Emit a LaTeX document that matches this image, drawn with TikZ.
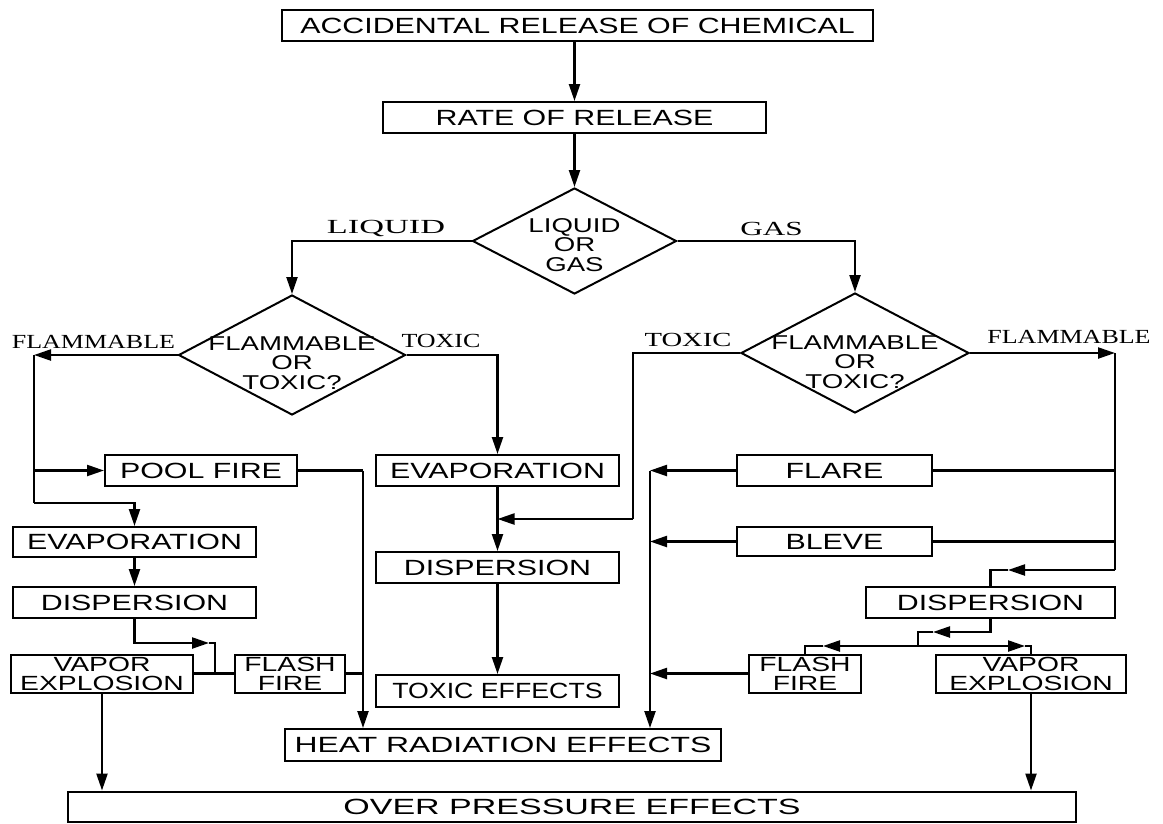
\documentclass[tikz,border=0pt]{standalone}
\usepackage{fontspec}
\usepackage{graphicx}
\setmainfont{Liberation Sans}[FakeStretch=1.38]
\newfontfamily\serifwide{Liberation Serif}[FakeStretch=1.3]
\usetikzlibrary{shapes.geometric,arrows.meta}
\newcommand{\bxfont}{\fontsize{22}{18}\selectfont}
\newcommand{\twofont}{\fontsize{20.5}{19}\selectfont}
\newcommand{\dmfont}{\fontsize{20}{19.5}\selectfont}
\newcommand{\lbfont}{\serifwide\fontsize{20}{20}\selectfont}

\begin{document}
\begin{tikzpicture}[x=1pt,y=-1pt,
  box/.style={draw, line width=2pt, inner sep=0pt, align=center, font=\bxfont},
  twoline/.style={box, font=\twofont},
  dia/.style={draw, diamond, line width=2pt, inner sep=0pt},
  dtext/.style={align=center, font=\dmfont, inner sep=0pt},
  lbl/.style={font=\lbfont, inner sep=0pt},
  arr/.style={-{Triangle[length=17pt,width=11pt]}, line width=2.3pt},
  ln/.style={line width=2.3pt}]

\fill[white] (0,0) rectangle (1163,823);
\useasboundingbox (0,0) rectangle (1163,823);

% ---- top of the chart
\node[box, minimum width=591pt, minimum height=31pt] (acc) at (577.5,25.5) {ACCIDENTAL RELEASE OF CHEMICAL};
\node[box, minimum width=383pt, minimum height=31pt] (rate) at (574.5,117.5) {RATE OF RELEASE};
\node[dia, minimum width=204pt, minimum height=106pt] (d1) at (574.5,241) {};
\node[dtext] (d1t) at (574.5,245) {LIQUID\\OR\\GAS};

\node[lbl] (lliq) at (386,228) {\scalebox{1.32}[1]{LIQUID}};
\node[lbl] (lgas) at (771.5,228.5) {\scalebox{1.2}[1]{GAS}};

% ---- decision diamonds
\node[dia, minimum width=227pt, minimum height=120pt] (d2) at (292,355) {};
\node[dtext] (d2t) at (292,363) {FLAMMABLE\\OR\\TOXIC?};
\node[dia, minimum width=228pt, minimum height=120pt] (d3) at (855,353) {};
\node[dtext] (d3t) at (855,362) {FLAMMABLE\\OR\\TOXIC?};

\node[lbl] (lflL) at (93.5,341.5) {FLAMMABLE};
\node[lbl] (ltxL) at (441,341) {TOXIC};
\node[lbl] (ltxR) at (688,340) {\scalebox{1.1}[1]{TOXIC}};
\node[lbl] (lflR) at (1069,337) {FLAMMABLE};

% ---- liquid branch
\node[box, minimum width=192pt, minimum height=31pt] (pool) at (201,470.5) {POOL FIRE};
\node[box, minimum width=243pt, minimum height=30pt] (evapL) at (134.5,542) {EVAPORATION};
\node[box, minimum width=243pt, minimum height=31pt] (dispL) at (134.5,602.5) {DISPERSION};
\node[twoline, minimum width=182pt, minimum height=38pt] (vapL) at (102,673.5) {VAPOR\\EXPLOSION};
\node[twoline, minimum width=110pt, minimum height=38pt] (flashL) at (290,673.5) {FLASH\\FIRE};

% ---- toxic column
\node[box, minimum width=243pt, minimum height=31pt] (evapM) at (497.5,470.5) {EVAPORATION};
\node[box, minimum width=243pt, minimum height=31pt] (dispM) at (497.5,567.5) {DISPERSION};
\node[box, minimum width=243pt, minimum height=32pt] (toxeff) at (497.5,691) {\scalebox{0.88}[1]{TOXIC EFFECTS}};

% ---- gas branch
\node[box, minimum width=195pt, minimum height=31pt] (flare) at (834.5,470.5) {FLARE};
\node[box, minimum width=195pt, minimum height=29pt] (bleve) at (834.5,541.5) {BLEVE};
\node[box, minimum width=249pt, minimum height=31pt] (dispR) at (990.5,602.5) {DISPERSION};
\node[twoline, minimum width=112pt, minimum height=38pt] (flashR) at (805,673.5) {FLASH\\FIRE};
\node[twoline, minimum width=190pt, minimum height=38pt] (vapR) at (1031,673.5) {VAPOR\\EXPLOSION};

% ---- effects
\node[box, minimum width=436pt, minimum height=32pt] (heat) at (503,745) {\scalebox{1.05}[1]{HEAT RADIATION EFFECTS}};
\node[box, minimum width=1008pt, minimum height=30pt] (over) at (572,806.5) {\scalebox{1.12}[1]{OVER PRESSURE EFFECTS}};

% ---- junction points
\coordinate (flc) at (34,355);
\coordinate (flb) at (34,503);
\coordinate (pj) at (363,470.5);
\coordinate (dja) at (209,643);
\coordinate (dj) at (215,643);
\coordinate (tj) at (633,519);
\coordinate (fr) at (1115,353);
\coordinate (frb) at (1115,570);
\coordinate (dra) at (1008,570);
\coordinate (hv) at (650,470.5);
\coordinate (dsa) at (933,632);
\coordinate (dsb) at (918,632);
\coordinate (dsc) at (918,646);
\coordinate (fla) at (823,646);
\coordinate (vpa) at (1025,646);

% ---- connectors: top
\draw[arr] (rate.north |- acc.south) -- (rate.north);
\draw[arr] (rate.south) -- (d1.north);
\draw[arr] (d1.west) -| (d2.north);
\draw[arr] (d1.east) -| (d3.north);

% ---- connectors: liquid, flammable
\draw[arr] (d2.west) -- (flc);
\draw[ln] (flc) -- (flb);
\draw[arr] (flb) -| (evapL.north);
\draw[arr] (flc |- pool.west) -- (pool.west);
\draw[arr] (evapL.south) -- (dispL.north);
\draw[arr] (dispL.south) |- (dja);
\draw[ln] (dja) -- (dj) -- (dj |- vapL.east);
\draw[ln] (vapL.east) -- (flashL.west);
\draw[ln] (pool.east) -- (pj);
\draw[arr] (pj) -- (pj |- heat.north);
\draw[ln] (flashL.east) -- (pj |- flashL.east);
\draw[arr] (vapL.south) -- (vapL.south |- over.north);

% ---- connectors: toxic
\draw[arr] (d2.east) -| (evapM.north);
\draw[arr] (evapM.south) -- (dispM.north);
\draw[ln] (d3.west) -| (tj);
\draw[arr] (tj) -- (evapM.south |- tj);
\draw[arr] (dispM.south) -- (toxeff.north);

% ---- connectors: gas, flammable
\draw[arr] (d3.east) -- (fr);
\draw[ln] (fr) -- (frb);
\draw[ln] (fr |- flare.east) -- (flare.east);
\draw[ln] (fr |- bleve.east) -- (bleve.east);
\draw[arr] (flare.west) -- (hv);
\draw[arr] (hv) -- (hv |- heat.north);
\draw[arr] (bleve.west) -- (hv |- bleve.west);
\draw[arr] (flashR.west) -- (hv |- flashR.west);
\draw[arr] (frb) -- (dra);
\draw[ln] (dra) -- (dispR.north |- frb) -- (dispR.north);
\draw[arr] (dispR.south) |- (dsa);
\draw[ln] (dsa) -- (dsb) -- (dsc);
\draw[arr] (dsc) -- (fla);
\draw[ln] (fla) -| (flashR.north);
\draw[arr] (dsc) -- (vpa);
\draw[ln] (vpa) -| (vapR.north);
\draw[arr] (vapR.south) -- (vapR.south |- over.north);

\end{tikzpicture}
\end{document}
